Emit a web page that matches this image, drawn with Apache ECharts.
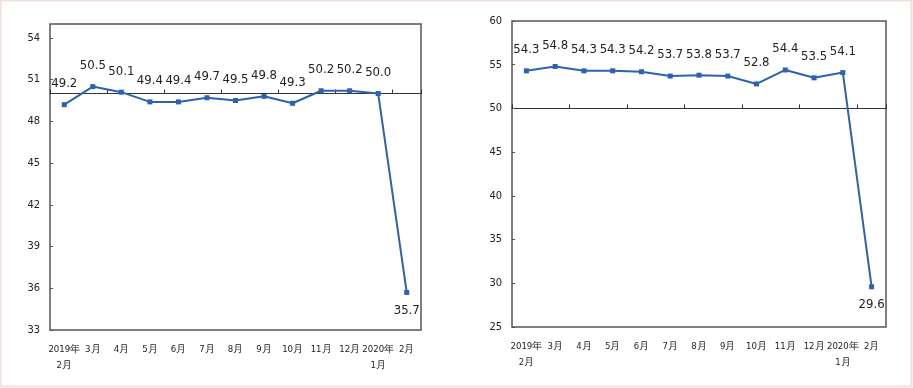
<!DOCTYPE html>
<html><head><meta charset="utf-8">
<script src="https://cdn.jsdelivr.net/npm/echarts@6/dist/echarts.min.js"></script>
<style>html,body{margin:0;padding:0;background:#fff}#c{width:913px;height:388px}</style>
</head><body><div id="c"></div>
<script>
const categories = ['2019年\n2月','3月','4月','5月','6月','7月','8月','9月','10月','11月','12月','2020年\n1月','2月'];
const leftValues = [49.2, 50.5, 50.1, 49.4, 49.4, 49.7, 49.5, 49.8, 49.3, 50.2, 50.2, 50.0, 35.7];
const rightValues = [54.3, 54.8, 54.3, 54.3, 54.2, 53.7, 53.8, 53.7, 52.8, 54.4, 53.5, 54.1, 29.6];
const leftAxis = {min: 33, max: 55, interval: 3};
const rightAxis = {min: 25, max: 60, interval: 5};
const baseline = 50;

const font = "'DejaVu Sans Condensed','Liberation Sans Narrow',sans-serif";
const grids = [
  {left: 50, top: 24, width: 371, height: 306},
  {left: 512, top: 21, width: 374, height: 306}
];
const axes = [leftAxis, rightAxis];
const values = [leftValues, rightValues];

const chart = echarts.init(document.getElementById('c'));
const option = {
  backgroundColor: '#fff',
  animation: false,
  graphic: [{type: 'rect', shape: {x: 0.5, y: 0.5, width: 911, height: 386}, style: {fill: 'none', stroke: '#f2e0dc', lineWidth: 2}, silent: true}],
  grid: grids.map(g => Object.assign({show: true, borderColor: '#555', borderWidth: 1.5, backgroundColor: '#fff'}, g)),
  xAxis: [],
  yAxis: [],
  series: []
};
grids.forEach((g, i) => {
  const ax = axes[i];
  option.xAxis.push({
    type: 'category', gridIndex: i, data: categories, position: 'bottom',
    axisLine: {show: false}, axisTick: {show: false},
    axisLabel: {interval: 0, margin: 12, fontFamily: font, fontSize: 9.5, color: '#222', lineHeight: 16}
  });
  option.xAxis.push({
    type: 'category', gridIndex: i, data: categories, position: 'bottom',
    offset: -(baseline - ax.min) / (ax.max - ax.min) * g.height,
    axisLine: {show: true, lineStyle: {color: '#333', width: 1.2}},
    axisTick: {show: true, inside: true, length: 4, lineStyle: {color: '#333'}},
    axisLabel: {show: false}
  });
  option.yAxis.push({
    type: 'value', gridIndex: i, min: ax.min, max: ax.max, interval: ax.interval,
    axisLine: {show: false}, splitLine: {show: false},
    axisTick: {show: true, inside: true, length: 3, lineStyle: {color: '#555'}},
    axisLabel: {margin: 10, fontFamily: font, fontSize: 11, color: '#222', showMaxLabel: (ax.max - ax.min) % ax.interval === 0}
  });
  const data = values[i].map((v, k) => {
    const d = {value: v};
    if (k === values[i].length - 1) d.label = {position: 'bottom', distance: 9};
    return d;
  });
  option.series.push({
    type: 'line', xAxisIndex: i * 2, yAxisIndex: i, data: data,
    symbol: 'rect', symbolSize: 5, showAllSymbol: true,
    lineStyle: {color: '#2d62b0', width: 2}, itemStyle: {color: '#2d62b0'},
    label: {show: true, position: 'top', distance: 12, fontFamily: font, fontSize: 13, color: '#222',
      formatter: p => p.value.toFixed(1)}
  });
});
chart.setOption(option);
</script></body></html>
